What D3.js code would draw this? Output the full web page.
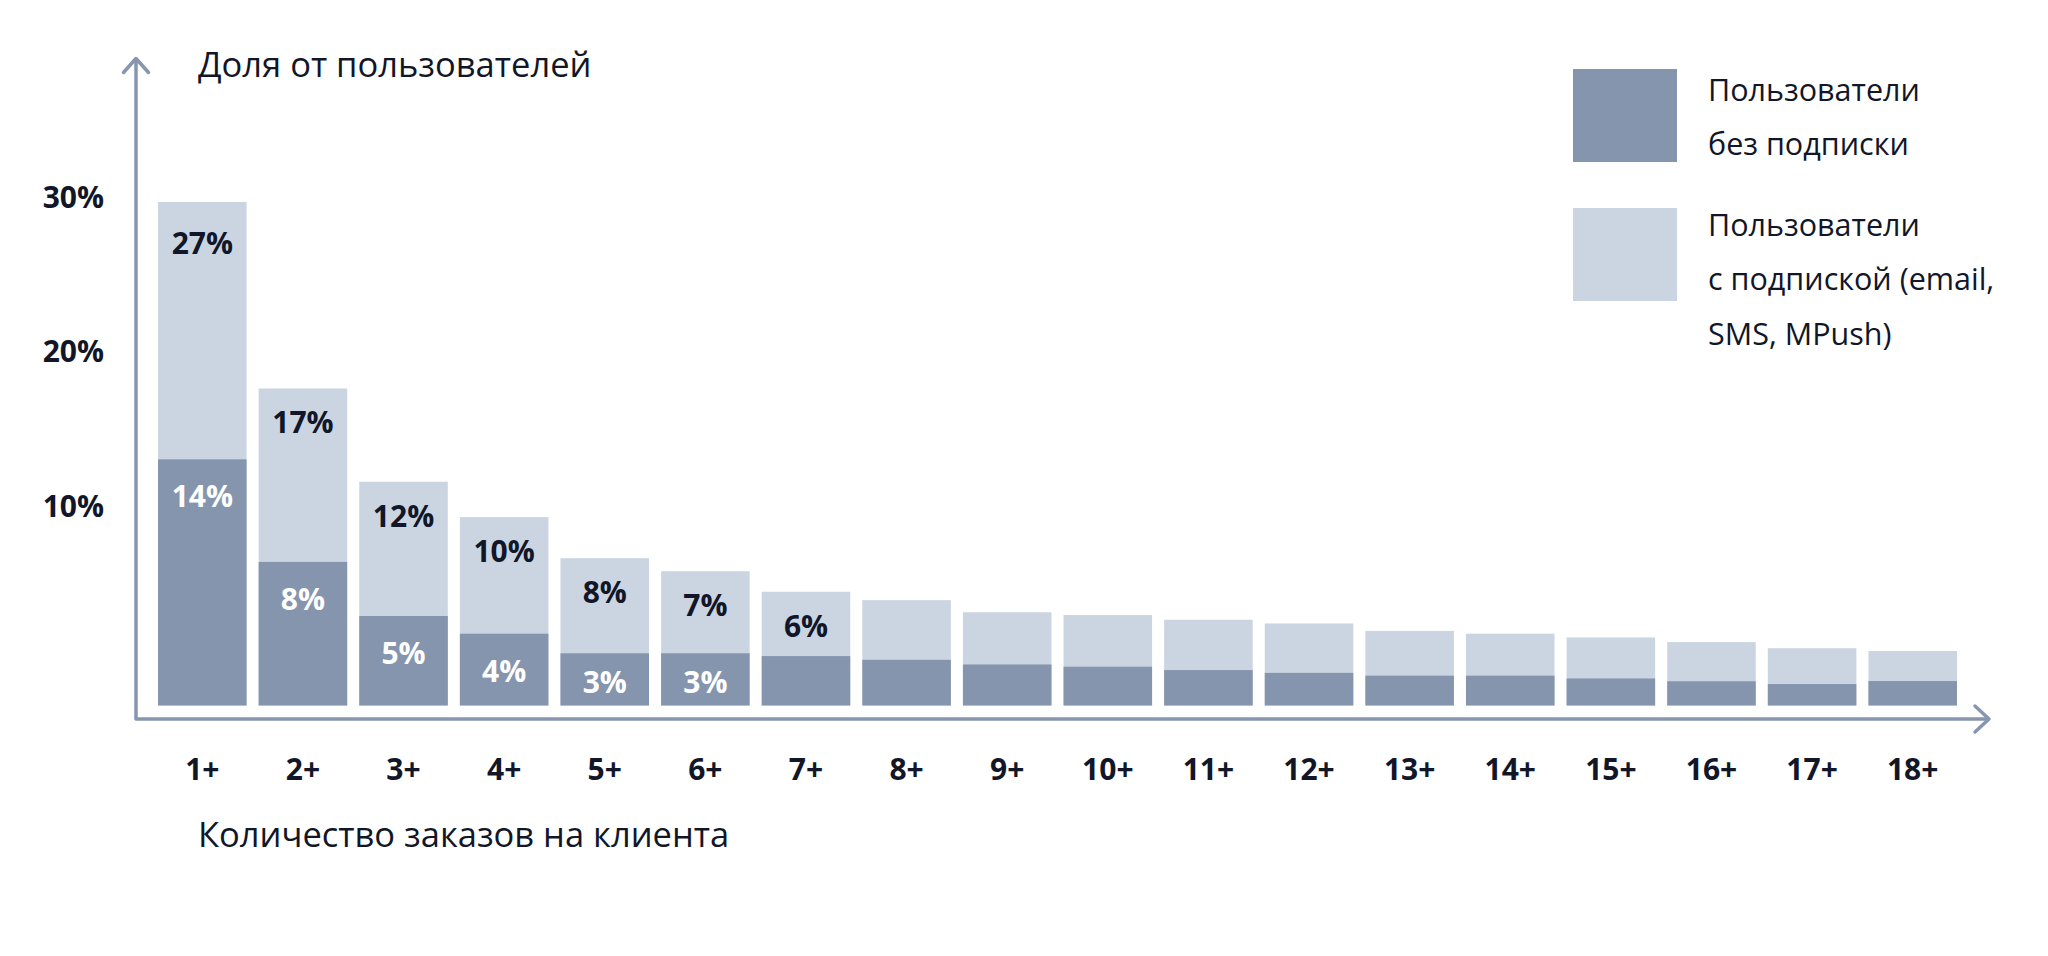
<!DOCTYPE html>
<html>
<head>
<meta charset="utf-8">
<script src="https://cdn.jsdelivr.net/npm/d3@7"></script>
<style>
  html, body { margin: 0; padding: 0; background: #ffffff; }
  svg { display: block; }
  text { font-family: "Open Sans", "Noto Sans", sans-serif; }
</style>
</head>
<body>
<svg id="chart" width="2048" height="956"></svg>
<script>
// ---- data ----
const categories = ["1+","2+","3+","4+","5+","6+","7+","8+","9+","10+","11+","12+","13+","14+","15+","16+","17+","18+"];
const totalShare = [27, 17, 12, 10.1, 7.9, 7.2, 6.1, 5.65, 5.0, 4.85, 4.6, 4.4, 4.0, 3.85, 3.65, 3.4, 3.07, 2.92];
const noSubShare = [13.2, 7.7, 4.8, 3.85, 2.8, 2.8, 2.65, 2.45, 2.2, 2.08, 1.9, 1.75, 1.6, 1.6, 1.45, 1.3, 1.15, 1.31];
const totalLabels = ["27%","17%","12%","10%","8%","7%","6%","","","","","","","","","","",""];
const noSubLabels = ["14%","8%","5%","4%","3%","3%","","","","","","","","","","","",""];
const yTickValues = [10, 20, 30];
const yTitle = "Доля от пользователей";
const xTitle = "Количество заказов на клиента";
const legendItems = [
  { key: "noSub", lines: ["Пользователи", "без подписки"] },
  { key: "total", lines: ["Пользователи", "с подпиской (email,", "SMS, MPush)"] }
];

// ---- styles ----
const colDark = "#8595ad";
const colLight = "#cbd5e1";
const colAxis = "#8796ae";
const colText = "#111628";

const svg = d3.select("#chart");

const baseY = 705.5;
const x = d3.scaleBand().domain(categories).range([152, 1963]).paddingInner(0.12).paddingOuter(0.06);
const y = d3.scaleLinear().domain([0, 27]).range([baseY, 202]);
// tick labels on the original are placed on their own (decorative) scale
const yTicks = d3.scaleLinear().domain([10, 30]).range([506.5, 197.8]);

const rows = categories.map((c, i) => ({ c, total: totalShare[i], noSub: noSubShare[i], tl: totalLabels[i], nl: noSubLabels[i] }));

// light (total) bars
svg.append("g").selectAll("rect").data(rows).join("rect")
  .attr("x", d => x(d.c)).attr("width", x.bandwidth())
  .attr("y", d => y(d.total)).attr("height", d => y(0) - y(d.total))
  .attr("fill", colLight);

// dark (no subscription) bars
svg.append("g").selectAll("rect").data(rows).join("rect")
  .attr("x", d => x(d.c)).attr("width", x.bandwidth())
  .attr("y", d => y(d.noSub)).attr("height", d => y(0) - y(d.noSub))
  .attr("fill", colDark);

// value labels
svg.append("g").selectAll("text").data(rows.filter(d => d.tl)).join("text")
  .attr("x", d => x(d.c) + x.bandwidth() / 2)
  .attr("y", d => y(d.total) + (d.total > 20 ? 52 : 45))
  .attr("text-anchor", "middle")
  .attr("font-size", 30).attr("font-weight", 700).attr("fill", colText)
  .text(d => d.tl);

svg.append("g").selectAll("text").data(rows.filter(d => d.nl)).join("text")
  .attr("x", d => x(d.c) + x.bandwidth() / 2)
  .attr("y", d => Math.min(y(d.noSub) + 48, y(0) - 13))
  .attr("text-anchor", "middle")
  .attr("font-size", 30).attr("font-weight", 700).attr("fill", "#ffffff")
  .text(d => d.nl);

// axes lines with arrows
const axisX0 = 136, axisY0 = 719, axisTop = 58.5, axisRight = 1989;
const axG = svg.append("g").attr("fill", "none").attr("stroke", colAxis)
  .attr("stroke-width", 3.5).attr("stroke-linejoin", "round").attr("stroke-linecap", "round");
axG.append("path").attr("d", `M${axisX0},${axisTop}V${axisY0}H${axisRight}`).attr("stroke-linecap", "butt");
axG.append("path").attr("d", `M${axisX0 - 12.5},${axisTop + 14}L${axisX0},${axisTop}L${axisX0 + 12.5},${axisTop + 14}`);
axG.append("path").attr("d", `M${axisRight - 14},${axisY0 - 13}L${axisRight},${axisY0}L${axisRight - 14},${axisY0 + 13}`);

// y tick labels
const yAxis = svg.append("g").attr("transform", "translate(104,0)")
  .call(d3.axisLeft(yTicks).tickValues(yTickValues).tickSize(0).tickPadding(0).tickFormat(d => d + "%"));
yAxis.select(".domain").remove();
yAxis.selectAll("text").attr("font-size", 30).attr("font-weight", 700).attr("fill", colText)
  .attr("font-family", "Open Sans, sans-serif");

// x tick labels
const xAxis = svg.append("g").attr("transform", "translate(0,780)")
  .call(d3.axisBottom(x).tickSize(0).tickPadding(0));
xAxis.select(".domain").remove();
xAxis.selectAll("text").attr("y", 0).attr("dy", null)
  .attr("font-size", 30).attr("font-weight", 700).attr("fill", colText)
  .attr("font-family", "Open Sans, sans-serif");

// titles
svg.append("text").attr("x", 198).attr("y", 77).attr("font-size", 34.5).attr("fill", colText).text(yTitle);
svg.append("text").attr("x", 198).attr("y", 847).attr("font-size", 34.5).attr("fill", colText).text(xTitle);

// legend
const legColors = { noSub: colDark, total: colLight };
const legTop = [69, 208];
const legText = [100.7, 236];
legendItems.forEach((item, i) => {
  svg.append("rect").attr("x", 1573).attr("y", legTop[i]).attr("width", 104).attr("height", 93)
    .attr("fill", legColors[item.key]);
  const t = svg.append("text").attr("x", 1708).attr("y", legText[i]).attr("font-size", 30.5).attr("fill", colText);
  item.lines.forEach((ln, j) => {
    t.append("tspan").attr("x", 1708).attr("dy", j === 0 ? 0 : 54.3).text(ln);
  });
});
</script>
</body>
</html>
